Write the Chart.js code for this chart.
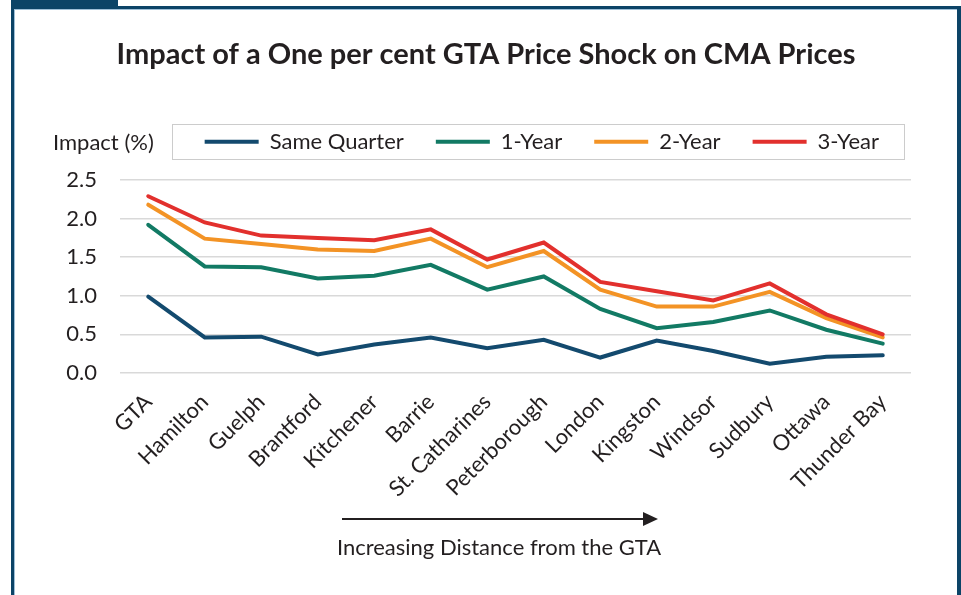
<!DOCTYPE html>
<html>
<head>
<meta charset="utf-8">
<script src="https://cdn.jsdelivr.net/npm/chart.js@4/dist/chart.umd.min.js"></script>
<style>
html,body{margin:0;padding:0;background:#fff;}
#wrap{position:absolute;left:0;top:0;width:961px;height:595px;}
</style>
</head>
<body>
<div id="wrap"><canvas id="c" width="961" height="595"></canvas></div>
<script>
const categories = ['GTA','Hamilton','Guelph','Brantford','Kitchener','Barrie','St. Catharines','Peterborough','London','Kingston','Windsor','Sudbury','Ottawa','Thunder Bay'];
const sameQuarter = [0.99,0.46,0.47,0.24,0.37,0.46,0.32,0.43,0.20,0.42,0.285,0.12,0.21,0.23];
const oneYear     = [1.92,1.38,1.37,1.225,1.26,1.40,1.08,1.25,0.83,0.58,0.66,0.81,0.56,0.38];
const twoYear     = [2.18,1.74,1.67,1.60,1.58,1.74,1.37,1.58,1.08,0.86,0.86,1.05,0.71,0.46];
const threeYear   = [2.29,1.95,1.78,1.75,1.72,1.86,1.47,1.69,1.18,1.06,0.94,1.16,0.76,0.50];
const seriesNames = ['Same Quarter','1-Year','2-Year','3-Year'];
const titleText = 'Impact of a One per cent GTA Price Shock on CMA Prices';
const yAxisTitle = 'Impact (%)';
const xAxisNote = 'Increasing Distance from the GTA';

const FONT = "Lato, 'Open Sans', sans-serif";
const TXT = '#231f20';
const FRAME = '#0c4467';

const framePlugin = {
  id: 'frame',
  beforeDraw(chart) {
    const ctx = chart.ctx;
    ctx.save();
    ctx.fillStyle = '#fff';
    ctx.fillRect(0, 0, chart.width, chart.height);
    ctx.fillStyle = FRAME;
    ctx.fillRect(11, 0, 107, 7);
    ctx.fillRect(11, 6, 950, 3);
    ctx.fillRect(11, 6, 3, 589);
    ctx.fillRect(957, 6, 4, 589);
    ctx.fillStyle = '#9fc0d8';
    ctx.fillRect(14, 9, 943, 1);
    ctx.fillRect(14, 9, 1, 586);
    ctx.restore();
  },
  afterDraw(chart) {
    const ctx = chart.ctx;
    const lg = chart.legend;
    ctx.save();
    if (lg && lg.legendHitBoxes && lg.legendHitBoxes.length) {
      const hb = lg.legendHitBoxes;
      const l = Math.min(...hb.map(h => h.left)) - 33;
      const r = Math.max(...hb.map(h => h.left + h.width)) + 25;
      const cy = hb[0].top + hb[0].height / 2;
      ctx.strokeStyle = '#cccccc';
      ctx.lineWidth = 1;
      ctx.strokeRect(Math.round(l) + 0.5, Math.round(cy - 18) + 0.5, Math.round(r - l), 35);
      ctx.fillStyle = TXT;
      ctx.font = "22px " + FONT;
      ctx.textAlign = 'left';
      ctx.textBaseline = 'middle';
      ctx.fillText(yAxisTitle, 53, cy + 1);
    }
    ctx.strokeStyle = TXT;
    ctx.fillStyle = TXT;
    ctx.lineWidth = 2;
    ctx.beginPath();
    ctx.moveTo(342, 519);
    ctx.lineTo(646, 519);
    ctx.stroke();
    ctx.beginPath();
    ctx.moveTo(643, 512);
    ctx.lineTo(658, 519);
    ctx.lineTo(643, 526);
    ctx.closePath();
    ctx.fill();
    ctx.font = "22px " + FONT;
    ctx.textAlign = 'center';
    ctx.textBaseline = 'alphabetic';
    ctx.fillText(xAxisNote, 499, 555);
    ctx.restore();
  }
};

const colors = ['#134a6e', '#127a64', '#f39325', '#e2302d'];
const seriesData = [sameQuarter, oneYear, twoYear, threeYear];

new Chart(document.getElementById('c'), {
  type: 'line',
  data: {
    labels: categories,
    datasets: seriesData.map((d, i) => ({
      label: seriesNames[i],
      data: d,
      borderColor: colors[i],
      backgroundColor: colors[i],
      borderWidth: 4,
      pointRadius: 0,
      pointHoverRadius: 0,
      tension: 0,
      fill: false,
      order: 3 - i,
      borderCapStyle: 'round',
      borderJoinStyle: 'miter'
    }))
  },
  options: {
    responsive: false,
    animation: false,
    devicePixelRatio: 1,
    layout: { padding: { left: 61, right: 50, top: 0, bottom: 85 } },
    plugins: {
      tooltip: { enabled: false },
      title: {
        display: true,
        text: titleText,
        color: TXT,
        font: { family: FONT, size: 29, weight: 'bold' },
        padding: { top: 37, bottom: 27 }
      },
      subtitle: {
        display: true,
        text: ' ',
        weight: 500,
        font: { size: 1 },
        padding: { top: 8, bottom: 8 }
      },
      legend: {
        display: true,
        position: 'top',
        align: 'end',
        labels: {
          sort: (a, b) => a.datasetIndex - b.datasetIndex,
          usePointStyle: true,
          pointStyle: 'line',
          pointStyleWidth: 54,
          boxHeight: 22,
          color: TXT,
          font: { family: FONT, size: 22 },
          padding: 32
        }
      }
    },
    scales: {
      x: {
        offset: true,
        grid: { display: false },
        border: { display: false },
        ticks: {
          color: TXT,
          font: { family: FONT, size: 22 },
          maxRotation: 45,
          minRotation: 45,
          autoSkip: false,
          padding: 8
        }
      },
      y: {
        min: 0,
        max: 2.5,
        afterFit(scale) { scale.width = 59; },
        grid: { color: '#d9d9d9', lineWidth: 1.5, drawTicks: false },
        border: { display: false },
        ticks: {
          stepSize: 0.5,
          color: TXT,
          font: { family: FONT, size: 22 },
          padding: 23,
          callback: v => Number(v).toFixed(1)
        }
      }
    }
  },
  plugins: [framePlugin]
});
</script>
</body>
</html>
